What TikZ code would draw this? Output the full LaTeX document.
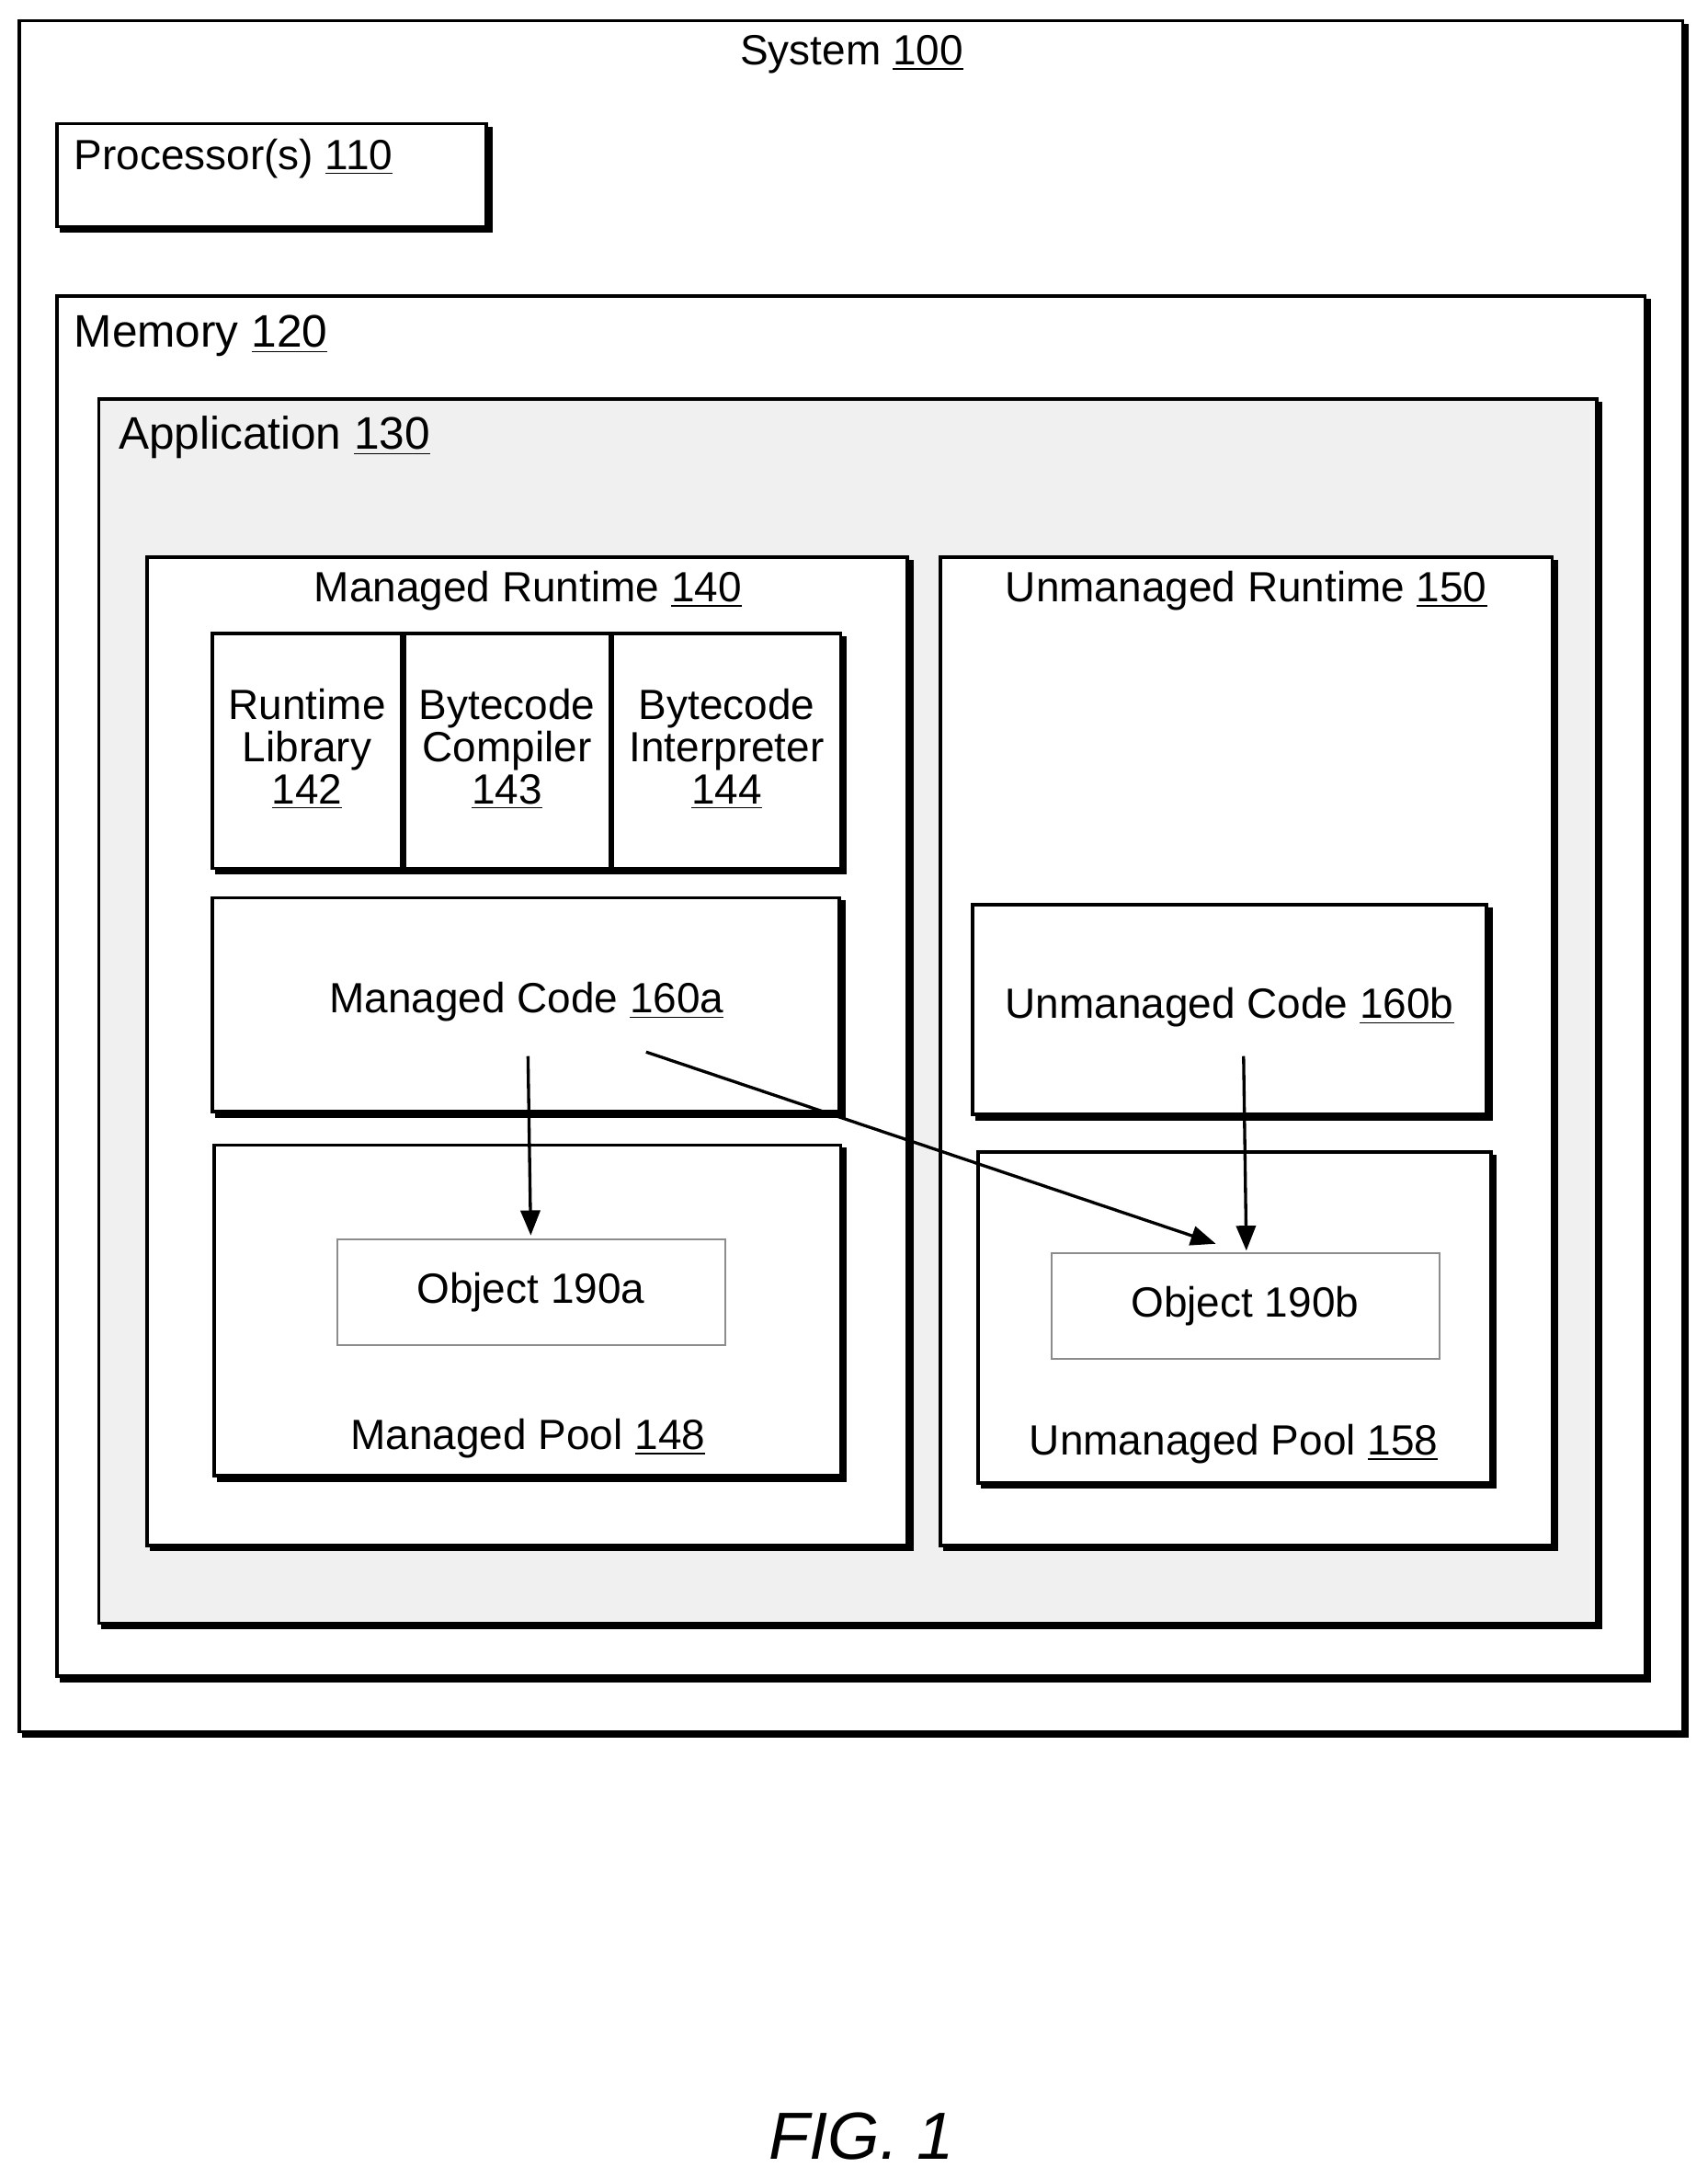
\documentclass[tikz,border=0pt]{standalone}
\usepackage{fontspec}
\setmainfont{Liberation Sans}
\usetikzlibrary{arrows.meta}
\begin{document}
\begin{tikzpicture}[x=0.5pt,y=-0.5pt,
  box/.style={draw,line width=1.2pt},
  sh/.style={line width=2.4pt},
  lbl/.style={font=\fontsize{15.2}{15.2}\selectfont,inner sep=0pt},
  big/.style={font=\fontsize{16.4}{17}\selectfont,inner sep=0pt},
  arr/.style={-{Triangle[length=9pt,width=7pt]},line width=1.1pt}]
\useasboundingbox (0,0) rectangle (1229,1568);
\newcommand{\shbox}[5]{%
 \draw[sh] (#1+2,#4+2)--(#3+2,#4+2)--(#3+2,#2+2);
 \draw[box,fill=#5] (#1,#2) rectangle (#3,#4);}
\shbox{14}{15}{1211}{1246}{white}
\node[lbl] (sys) at (613,39) {System \underline{100}};
\shbox{41}{89}{350}{163}{white}
\node[lbl,anchor=west] (proc) at (53,114) {Processor(s) \underline{110}};
\shbox{41}{213}{1184}{1206}{white}
\node[big,anchor=west] (mem) at (53,242) {Memory \underline{120}};
\shbox{71}{287}{1149}{1168}{black!6}
\node[big,anchor=west] (app) at (85,315) {Application \underline{130}};
\shbox{106}{401}{653}{1112}{white}
\node[lbl] (mr) at (380,425) {Managed Runtime \underline{140}};
\shbox{677}{401}{1117}{1112}{white}
\node[lbl] (ur) at (897,425) {Unmanaged Runtime \underline{150}};
\shbox{153}{456}{605}{625}{white}
\draw[line width=2.2pt] (290,456)--(290,625) (440,456)--(440,625);
\node[lbl,align=center] (rl) at (221,539) {Runtime\\Library\\\underline{142}};
\node[lbl,align=center] (bc) at (365,539) {Bytecode\\Compiler\\\underline{143}};
\node[lbl,align=center] (bi) at (523,539) {Bytecode\\Interpreter\\\underline{144}};
\shbox{153}{646}{604}{800}{white}
\node[lbl] (mc) at (379,721) {Managed Code \underline{160a}};
\shbox{154}{824}{605}{1062}{white}
\node[lbl] (mp) at (380,1035) {Managed Pool \underline{148}};
\draw[black!45,line width=0.6pt,fill=white] (243,892) rectangle (522,968);
\node[lbl] (oa) at (382,930) {Object 190a};
\shbox{700}{651}{1070}{802}{white}
\node[lbl] (uc) at (885,725) {Unmanaged Code \underline{160b}};
\shbox{704}{829}{1073}{1067}{white}
\node[lbl] (up) at (888,1039) {Unmanaged Pool \underline{158}};
\draw[black!45,line width=0.6pt,fill=white] (757,902) rectangle (1036,978);
\node[lbl] (ob) at (896,940) {Object 190b};
\coordinate (a1) at (380,760); \coordinate (a1e) at (382,889);
\coordinate (a2) at (465,757); \coordinate (a2e) at (875,895);
\coordinate (a3) at (895,760); \coordinate (a3e) at (897,900);
\draw[arr] (a1)--(a1e);
\draw[arr] (a2)--(a2e);
\draw[arr] (a3)--(a3e);
\node[font=\fontsize{24}{28}\selectfont\itshape,inner sep=0pt] (fig) at (620,1537) {FIG. 1};
\end{tikzpicture}
\end{document}
